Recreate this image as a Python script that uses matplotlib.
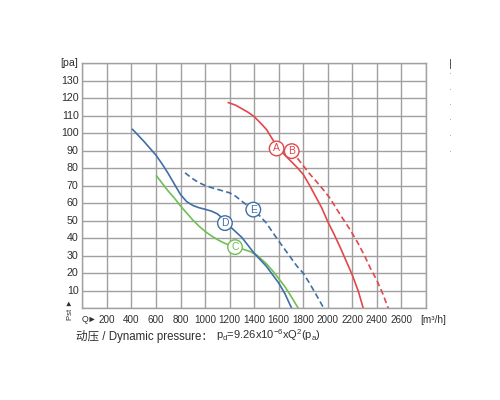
import matplotlib
matplotlib.use("Agg")
import matplotlib.pyplot as plt

plt.rcParams['font.family'] = ['Liberation Sans', 'Noto Sans CJK SC', 'DejaVu Sans']
plt.rcParams['mathtext.fontset'] = 'custom'
plt.rcParams['mathtext.rm'] = 'Liberation Sans'
plt.rcParams['mathtext.default'] = 'regular'

# ---- data (Q in m3/h, Pst in Pa) ----
a_q = [1190, 1250, 1300, 1350, 1400, 1450, 1500, 1550, 1583, 1650, 1700, 1750, 1800, 1850,
       1900, 1950, 2000, 2050, 2100, 2150, 2200, 2250, 2289]
a_p = [117.5, 116.0, 114.0, 112.0, 109.5, 106.0, 102.2, 96.5, 93.0, 87.5, 84.0, 80.5, 76.5, 70.5,
       64.0, 57.5, 49.5, 42.5, 35.0, 27.0, 19.0, 9.5, 0]

b_q = [1706, 1772, 1850, 1900, 1963, 2017, 2070, 2120, 2181, 2240, 2300, 2350, 2398, 2450, 2493]
b_p = [89.8, 84.0, 77.0, 73.0, 67.8, 63.0, 57.0, 51.5, 45.0, 38.0, 30.0, 22.5, 16.3, 8.0, 0]

c_q = [606, 650, 700, 750, 800, 850, 900, 950, 1000, 1050, 1100, 1150, 1200, 1244, 1300,
       1366, 1420, 1500, 1556, 1600, 1651, 1700, 1760]
c_p = [75.6, 71.5, 67.0, 63.0, 58.5, 54.5, 50.5, 47.0, 44.0, 41.5, 39.3, 37.5, 36.0, 35.0, 34.0,
       32.5, 30.5, 25.5, 21.0, 17.0, 12.4, 7.0, 0]

d_q = [410, 500, 550, 600, 650, 700, 750, 800, 850, 900, 950, 1000, 1050, 1100, 1150, 1200,
       1300, 1400, 1500, 1600, 1650, 1706]
d_p = [102.2, 95.5, 91.5, 87.5, 82.5, 77.0, 71.0, 65.0, 61.0, 58.8, 57.5, 56.6, 55.6, 54.0, 51.0, 47.0,
       40.5, 31.5, 24.0, 14.5, 8.5, 0]

e_q = [837, 900, 950, 1000, 1050, 1100, 1150, 1200, 1250, 1312, 1350, 1393, 1450, 1500, 1550,
       1610, 1692, 1750, 1800, 1850, 1900, 1968]
e_p = [77.4, 74.0, 71.8, 70.2, 69.0, 68.0, 67.0, 66.0, 64.0, 60.5, 58.5, 56.4, 52.5, 48.7, 43.5,
       37.5, 29.6, 24.0, 20.1, 14.5, 8.5, 0]

labels = ['A', 'B', 'C', 'D', 'E']
label_q = [1583, 1706, 1244, 1162, 1393]
label_p = [91.3, 89.8, 35.0, 48.7, 56.4]

x_ticks = [200, 400, 600, 800, 1000, 1200, 1400, 1600, 1800, 2000, 2200, 2400, 2600]
y_ticks = [10, 20, 30, 40, 50, 60, 70, 80, 90, 100, 110, 120, 130]

red = '#e2474b'
blue = '#3f6fa6'
green = '#6fc052'

fig = plt.figure(figsize=(5, 4), dpi=100)
ax = fig.add_axes([0.1646, 0.229, 0.6874, 0.613])
ax.set_xlim(0, 2800)
ax.set_ylim(0, 140)

ax.set_xticks(range(0, 2801, 200))
ax.set_yticks(range(0, 141, 10))
ax.grid(True, color='#a0a0a0', linewidth=1.0)
ax.set_axisbelow(True)
for s in ax.spines.values():
    s.set_color('#a0a0a0')
    s.set_linewidth(1.0)
ax.tick_params(length=0, labelbottom=False, labelleft=False)

tc = '#2e2e2e'
for v in x_ticks:
    ax.text(v, -3.5, str(v), ha='center', va='top', fontsize=7.1, color=tc)
for v in y_ticks:
    ax.text(-30, v, str(v), ha='right', va='center', fontsize=7.7, color=tc)
ax.text(-30, 140, '[pa]', ha='right', va='center', fontsize=7.7, color=tc)
ax.text(118, -3.5, 'Q\u25ba', ha='right', va='top', fontsize=6.3, color=tc)
ax.text(2860, -3.5, '[m\u00b3/h]', ha='center', va='top', fontsize=7.2, color=tc)
ax.text(-100, -0.5, 'Pst \u25ba', rotation=90, ha='center', va='center', fontsize=5.5, color=tc)

ax.plot(a_q, a_p, color=red, lw=1.2)
ax.plot(b_q, b_p, color=red, lw=1.2, ls=(0, (3.5, 2)))
ax.plot(c_q, c_p, color=green, lw=1.2)
ax.plot(d_q, d_p, color=blue, lw=1.2)
ax.plot(e_q, e_p, color=blue, lw=1.2, ls=(0, (3.5, 2)))

lcol = [red, red, green, blue, blue]
for lab, q, p, c in zip(labels, label_q, label_p, lcol):
    ax.text(q, p, lab, ha='center', va='center', fontsize=7.5, color=c,
            bbox=dict(boxstyle='circle,pad=0.22', fc='white', ec=c, lw=1.0))

t1 = fig.text(0.153, 0.15, '动压 / Dynamic pressure：', fontsize=8.3, color=tc,
              ha='left', va='baseline')
ax.annotate(r'p$_d$=9.26x10$^{-6}$xQ$^2$(p$_a$)', xy=(1, 0), xycoords=t1,
            xytext=(2, 0), textcoords='offset points', fontsize=8.0, color=tc,
            ha='left', va='bottom', annotation_clip=False)

# cropped marks at the far right edge
fig.text(0.9, 0.84, '|', fontsize=8, color='#444444', ha='center', va='center')
for yy in [75, 90.7, 106, 121, 136.7, 152.3]:
    fig.text(0.9, 1 - yy / 400, '\u00b7', fontsize=6, color='#888888', ha='center', va='center')

fig.savefig('out.png', dpi=100)
